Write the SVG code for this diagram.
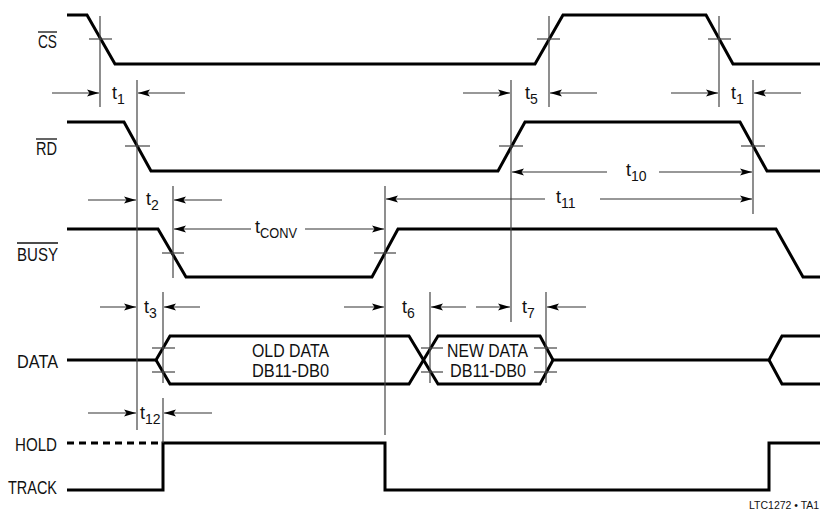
<svg xmlns="http://www.w3.org/2000/svg" width="820" height="510" viewBox="0 0 820 510">
<style>
.sig{fill:none;stroke:#000;stroke-width:3;stroke-linejoin:miter;stroke-linecap:butt}
.ref{fill:none;stroke:#444;stroke-width:1.2}
.tick{fill:none;stroke:#444;stroke-width:1.2}
.dim{fill:none;stroke:#333;stroke-width:1.2;marker-end:url(#ah)}
.lbl{font-family:"Liberation Sans",Arial,sans-serif;font-size:18px;fill:#111;text-anchor:end}
.dat{font-family:"Liberation Sans",Arial,sans-serif;font-size:18px;fill:#111;text-anchor:middle}
.t{font-family:"Liberation Sans",Arial,sans-serif;font-size:18px;fill:#111}
.sub{font-size:14px}
.ovl{stroke:#111;stroke-width:1.3}
.note{font-family:"Liberation Sans",Arial,sans-serif;font-size:10.5px;fill:#111}
</style>
<defs>
<marker id="ah" markerUnits="userSpaceOnUse" markerWidth="12" markerHeight="8" refX="12" refY="4" orient="auto">
<path d="M0,0.5 L12,4 L0,7.5 L2.5,4 z" fill="#000"/>
</marker>
</defs>
<rect width="820" height="510" fill="#fff"/>

<g id="labels">
<text class="lbl" x="57" y="48" textLength="19" lengthAdjust="spacingAndGlyphs">CS</text>
<line class="ovl" x1="38" y1="32" x2="57" y2="32"/>
<text class="lbl" x="57" y="155" textLength="21" lengthAdjust="spacingAndGlyphs">RD</text>
<line class="ovl" x1="36" y1="139" x2="57" y2="139"/>
<text class="lbl" x="58" y="261" textLength="41" lengthAdjust="spacingAndGlyphs">BUSY</text>
<line class="ovl" x1="17" y1="243" x2="58" y2="243"/>
<text class="lbl" x="58" y="368" textLength="41" lengthAdjust="spacingAndGlyphs">DATA</text>
<text class="lbl" x="57" y="451" textLength="42" lengthAdjust="spacingAndGlyphs">HOLD</text>
<text class="lbl" x="57" y="494" textLength="49" lengthAdjust="spacingAndGlyphs">TRACK</text>
</g>

<g id="sig-cs"><path class="sig" d="M67,15 H87 L115,64 H535 L563,15 H706 L733,64 H820"/></g>
<g id="sig-rd"><path class="sig" d="M67,122 H124 L151,171 H498 L525,122 H740 L767,171 H820"/></g>
<g id="sig-busy"><path class="sig" d="M67,229 H158 L186,277 H372 L398,229 H776 L803,277 H820"/></g>
<g id="sig-data">
<path class="sig" d="M67,360 H156 L170,336 H409 L438,384 H540 L553,360 H769 L782,336 H820"/>
<path class="sig" d="M156,360 L170,384 H409 L438,336 H540 L553,360"/>
<path class="sig" d="M769,360 L782,384 H820"/>
<text class="dat" x="290.5" y="357" textLength="77" lengthAdjust="spacingAndGlyphs">OLD DATA</text>
<text class="dat" x="290.5" y="377" textLength="77" lengthAdjust="spacingAndGlyphs">DB11-DB0</text>
<text class="dat" x="487.5" y="357" textLength="81" lengthAdjust="spacingAndGlyphs">NEW DATA</text>
<text class="dat" x="488" y="377" textLength="76" lengthAdjust="spacingAndGlyphs">DB11-DB0</text>
</g>
<g id="sig-hold">
<path class="sig" d="M67,443 H163" stroke-dasharray="7,5"/>
<path class="sig" d="M67,490 H163 V443 H385 V490 H769 V443 H820"/>
</g>

<g id="connectors">
<line class="ref" x1="100" y1="16" x2="100" y2="107"/>
<line class="ref" x1="137" y1="80" x2="137" y2="430"/>
<line class="ref" x1="549" y1="16" x2="549" y2="107"/>
<line class="ref" x1="719" y1="16" x2="719" y2="107"/>
<line class="ref" x1="511" y1="80" x2="511" y2="322"/>
<line class="ref" x1="753" y1="80" x2="753" y2="214"/>
<line class="ref" x1="173" y1="186" x2="173" y2="278"/>
<line class="ref" x1="385" y1="186" x2="385" y2="435"/>
<line class="ref" x1="163" y1="292" x2="163" y2="383"/>
<line class="ref" x1="430" y1="292" x2="430" y2="383"/>
<line class="ref" x1="546" y1="292" x2="546" y2="383"/>
<line class="ref" x1="163" y1="398" x2="163" y2="443"/>
<line class="tick" x1="89" y1="39" x2="112" y2="39"/>
<line class="tick" x1="537" y1="39" x2="560" y2="39"/>
<line class="tick" x1="708" y1="39" x2="731" y2="39"/>
<line class="tick" x1="125" y1="146" x2="150" y2="146"/>
<line class="tick" x1="499" y1="146" x2="523" y2="146"/>
<line class="tick" x1="741" y1="146" x2="765" y2="146"/>
<line class="tick" x1="162" y1="253" x2="184" y2="253"/>
<line class="tick" x1="374" y1="253" x2="396" y2="253"/>
<line class="tick" x1="152" y1="348" x2="175" y2="348"/>
<line class="tick" x1="152" y1="372" x2="175" y2="372"/>
<line class="tick" x1="421" y1="348" x2="443" y2="348"/>
<line class="tick" x1="421" y1="372" x2="443" y2="372"/>
<line class="tick" x1="534" y1="348" x2="557" y2="348"/>
<line class="tick" x1="534" y1="372" x2="557" y2="372"/>
<line class="dim" x1="52" y1="93" x2="99" y2="93"/>
<line class="dim" x1="185" y1="93" x2="138" y2="93"/>
<line class="dim" x1="463" y1="93" x2="510" y2="93"/>
<line class="dim" x1="597" y1="93" x2="550" y2="93"/>
<line class="dim" x1="671" y1="93" x2="718" y2="93"/>
<line class="dim" x1="801" y1="93" x2="754" y2="93"/>
<line class="dim" x1="607" y1="172" x2="512" y2="172"/>
<line class="dim" x1="659" y1="172" x2="752" y2="172"/>
<line class="dim" x1="545" y1="199" x2="386" y2="199"/>
<line class="dim" x1="600" y1="199" x2="752" y2="199"/>
<line class="dim" x1="88" y1="200" x2="136" y2="200"/>
<line class="dim" x1="222" y1="200" x2="174" y2="200"/>
<line class="dim" x1="251" y1="229" x2="174" y2="229"/>
<line class="dim" x1="305" y1="229" x2="384" y2="229"/>
<line class="dim" x1="100" y1="307" x2="136" y2="307"/>
<line class="dim" x1="200" y1="307" x2="164" y2="307"/>
<line class="dim" x1="344" y1="307" x2="384" y2="307"/>
<line class="dim" x1="466" y1="307" x2="431" y2="307"/>
<line class="dim" x1="476" y1="307" x2="510" y2="307"/>
<line class="dim" x1="586" y1="307" x2="547" y2="307"/>
<line class="dim" x1="88" y1="413" x2="136" y2="413"/>
<line class="dim" x1="212" y1="413" x2="164" y2="413"/>
</g>

<g id="timing-labels">
<text class="t" x="112" y="99">t<tspan class="sub" dy="5">1</tspan></text>
<text class="t" x="525" y="99">t<tspan class="sub" dy="5">5</tspan></text>
<text class="t" x="731" y="99">t<tspan class="sub" dy="5">1</tspan></text>
<text class="t" x="626" y="176">t<tspan class="sub" dy="5">10</tspan></text>
<text class="t" x="556" y="203">t<tspan class="sub" dy="5">11</tspan></text>
<text class="t" x="146" y="205">t<tspan class="sub" dy="5">2</tspan></text>
<text class="t" x="255" y="233">t<tspan class="sub" dy="5" textLength="37" lengthAdjust="spacingAndGlyphs">CONV</tspan></text>
<text class="t" x="144" y="313">t<tspan class="sub" dy="5">3</tspan></text>
<text class="t" x="402" y="313">t<tspan class="sub" dy="5">6</tspan></text>
<text class="t" x="522" y="313">t<tspan class="sub" dy="5">7</tspan></text>
<text class="t" x="140" y="419">t<tspan class="sub" dy="5">12</tspan></text>
</g>

<text class="note" x="749" y="509">LTC1272 • TA1</text>
</svg>
